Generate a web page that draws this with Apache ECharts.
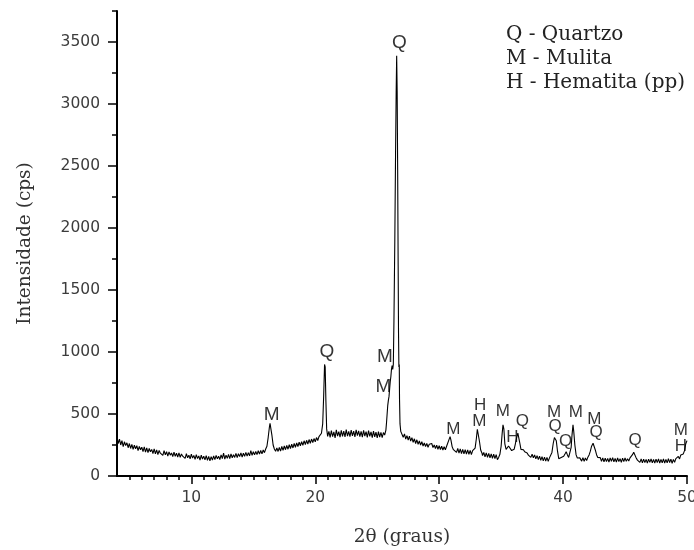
<!DOCTYPE html>
<html>
<head>
<meta charset="utf-8">
<script src="https://cdn.jsdelivr.net/npm/echarts@6/dist/echarts.min.js"></script>
<style>html,body{margin:0;padding:0;background:#fff}#c{width:694px;height:550px}</style>
</head>
<body>
<div id="c"></div>
<script>
// XRD pattern: [2θ (graus), Intensidade (cps)]
const pattern = [
[4.0,315],[4.1,262],[4.2,298],[4.3,250],[4.4,285],[4.5,236],[4.6,276],[4.7,245],[4.8,268],[4.9,228],[5.0,262],[5.1,222],[5.2,255],[5.3,214],[5.4,248],[5.5,220],[5.6,244],[5.7,205],[5.8,238],[5.9,212],[6.0,232],
[6.1,196],[6.2,234],[6.3,192],[6.4,226],[6.5,188],[6.6,222],[6.7,196],[6.8,214],[6.9,180],[7.0,218],[7.1,178],[7.2,210],[7.3,172],[7.4,206],[7.5,184],[7.6,200],[7.7,166],[7.8,204],[7.9,170],[8.0,196],[8.1,160],[8.2,194],[8.3,168],[8.4,186],[8.5,156],[8.6,192],[8.7,158],[8.8,184],
[8.9,152],[9.0,186],[9.1,150],[9.2,178],[9.3,160],[9.4,174],[9.5,142],[9.6,180],[9.7,146],[9.8,168],[9.9,138],[10.0,176],[10.1,144],[10.2,166],[10.3,134],[10.4,172],[10.5,140],[10.6,162],[10.7,128],[10.8,168],[10.9,136],[11.0,160],[11.1,130],[11.2,164],[11.3,126],[11.4,158],[11.5,122],[11.6,156],
[11.7,128],[11.8,162],[11.9,132],[12.0,166],[12.1,138],[12.2,160],[12.3,132],[12.4,170],[12.5,140],[12.6,184],[12.7,136],[12.8,168],[12.9,142],[13.0,174],[13.1,140],[13.2,178],[13.3,146],[13.4,172],[13.5,150],[13.6,182],[13.7,148],[13.8,180],[13.9,156],[14.0,186],[14.1,152],[14.2,184],
[14.3,158],[14.4,190],[14.5,160],[14.6,188],[14.7,162],[14.8,204],[14.9,166],[15.0,196],[15.1,170],[15.2,198],[15.3,172],[15.4,204],[15.5,176],[15.6,206],[15.7,178],[15.8,210],[15.9,188],[16.0,218],
[16.1,240],[16.2,310],[16.3,395],[16.35,425],[16.4,410],[16.5,330],[16.6,250],[16.7,218],[16.8,200],[16.9,226],[17.0,198],
[17.1,230],[17.2,200],[17.3,238],[17.4,206],[17.5,242],[17.6,212],[17.7,246],[17.8,216],[17.9,252],[18.0,222],[18.1,256],[18.2,226],[18.3,262],[18.4,232],[18.5,266],[18.6,238],[18.7,272],[18.8,244],[18.9,276],[19.0,248],[19.1,284],[19.2,254],[19.3,288],[19.4,258],[19.5,294],[19.6,264],[19.7,298],[19.8,270],[19.9,302],[20.0,276],[20.1,310],[20.2,286],[20.3,318],[20.4,318],[20.5,345],
[20.6,420],[20.68,650],[20.75,900],[20.8,880],[20.86,600],[20.92,380],[21.0,320],
[21.1,360],[21.2,312],[21.3,366],[21.4,318],[21.5,356],[21.6,308],[21.7,372],[21.8,322],[21.9,358],[22.0,314],[22.1,368],[22.2,320],[22.3,362],[22.4,316],[22.5,375],[22.6,322],[22.7,360],[22.8,318],[22.9,370],[23.0,324],[23.1,362],[23.2,316],[23.3,372],[23.4,326],[23.5,364],[23.6,318],[23.7,360],[23.8,314],[23.9,368],[24.0,322],[24.1,358],[24.2,312],[24.3,366],[24.4,320],[24.5,356],[24.6,310],[24.7,362],[24.8,316],[24.9,354],[25.0,308],[25.1,358],[25.2,314],[25.3,352],[25.4,310],[25.5,350],[25.6,330],
[25.7,370],[25.75,430],[25.8,500],[25.85,570],[25.9,610],[25.95,640],[26.0,700],[26.05,760],[26.1,800],[26.15,860],[26.2,890],[26.25,860],[26.3,900],[26.35,1250],[26.42,1900],[26.48,2600],[26.53,3100],[26.57,3390],[26.61,3100],[26.65,2470],[26.69,1700],[26.72,1150],[26.75,880],[26.78,900],[26.8,620],[26.84,420],[26.9,360],
[27.0,345],[27.1,312],[27.2,340],[27.3,298],[27.4,326],[27.5,290],[27.6,322],[27.7,282],[27.8,310],[27.9,272],[28.0,300],[28.1,262],[28.2,292],[28.3,256],[28.4,282],[28.5,250],[28.6,276],[28.7,242],[28.8,266],[28.9,238],[29.0,262],[29.1,232],[29.2,256],[29.3,270],[29.4,262],[29.5,230],[29.6,250],[29.7,222],[29.8,248],[29.9,216],[30.0,244],[30.1,214],[30.2,240],[30.3,210],[30.4,236],[30.5,212],[30.6,240],
[30.7,255],[30.8,295],[30.88,318],[30.95,290],[31.05,235],[31.15,212],
[31.3,226],[31.4,190],[31.5,222],[31.6,184],[31.7,218],[31.8,180],[31.9,214],[32.0,178],[32.1,212],[32.2,176],[32.3,210],[32.4,174],[32.5,206],[32.6,172],[32.7,204],[32.8,200],
[32.9,225],[33.0,300],[33.08,377],[33.15,365],[33.25,280],[33.35,210],[33.45,186],
[33.5,164],[33.6,190],[33.7,154],[33.8,186],[33.9,150],[34.0,182],[34.1,146],[34.2,178],[34.3,142],[34.4,176],[34.5,140],[34.6,172],[34.7,132],[34.8,150],[34.9,175],
[35.0,240],[35.08,340],[35.15,412],[35.22,380],[35.3,260],[35.4,215],[35.5,225],[35.6,242],[35.67,250],[35.75,232],[35.85,205],[35.95,198],[36.05,215],[36.15,260],[36.25,310],[36.35,345],[36.42,330],[36.5,270],[36.6,215],[36.7,205],[36.8,212],[36.9,195],[37.0,200],
[37.1,186],[37.2,168],[37.3,178],[37.4,150],[37.5,176],[37.6,146],[37.7,170],[37.8,138],[37.9,164],[38.0,132],[38.1,160],[38.2,126],[38.3,156],[38.4,122],[38.5,152],[38.6,120],[38.7,150],[38.8,118],[38.9,146],[39.0,150],
[39.1,190],[39.2,260],[39.3,310],[39.38,318],[39.45,285],[39.55,200],[39.65,140],[39.75,126],[39.85,150],[39.95,165],[40.05,160],[40.15,178],[40.25,196],[40.35,170],[40.45,150],[40.55,165],[40.65,230],[40.72,330],[40.8,412],[40.86,360],[40.95,250],[41.05,170],[41.15,145],[41.25,138],[41.35,146],
[41.5,120],[41.6,148],[41.7,118],[41.8,146],[41.9,124],[42.0,152],[42.1,170],[42.2,200],[42.3,240],[42.42,264],[42.5,250],[42.6,210],[42.7,172],[42.8,150],[42.9,135],
[43.0,148],[43.1,118],[43.2,146],[43.3,114],[43.4,144],[43.5,116],[43.6,142],[43.7,112],[43.8,146],[43.9,118],[44.0,148],[44.1,114],[44.2,142],[44.3,112],[44.4,146],[44.5,116],[44.6,140],[44.7,110],[44.8,144],[44.9,116],[45.0,146],[45.1,118],[45.2,140],[45.3,120],[45.4,146],[45.5,152],
[45.6,172],[45.7,192],[45.78,185],[45.88,150],[46.0,128],
[46.1,140],[46.2,110],[46.3,138],[46.4,106],[46.5,136],[46.6,108],[46.7,134],[46.8,104],[46.9,136],[47.0,110],[47.1,138],[47.2,106],[47.3,134],[47.4,104],[47.5,136],[47.6,108],[47.7,138],[47.8,104],[47.9,134],[48.0,106],[48.1,138],[48.2,104],[48.3,134],[48.4,106],[48.5,140],[48.6,108],[48.7,136],[48.8,102],[48.9,134],[49.0,110],[49.1,140],[49.2,130],[49.3,158],[49.4,138],[49.5,170],[49.6,162],[49.7,178],[49.8,205],[49.9,260],[50.0,285]
];

// Phase labels: [2θ, cps, text]
const majorPeakLabels = [
  [16.49, 493, 'M'], [20.93, 1004, 'Q'], [25.63, 959, 'M'], [25.49, 722, 'M'], [26.78, 3490, 'Q']
];
const minorPeakLabels = [
  [31.14, 377, 'M'], [33.30, 573, 'H'], [33.24, 444, 'M'], [35.13, 519, 'M'], [35.90, 309, 'H'],
  [36.71, 444, 'Q'], [39.27, 515, 'M'], [39.35, 398, 'Q'], [40.21, 277, 'Q'], [41.02, 515, 'M'],
  [42.52, 460, 'M'], [42.66, 350, 'Q'], [45.81, 285, 'Q'], [49.50, 372, 'M'], [49.50, 242, 'H']
];
const legendLines = ['Q - Quartzo', 'M - Mulita', 'H - Hematita (pp)'];

// Axis ticks
const xLabelValues = [10, 20, 30, 40, 50];
const xMinorTicks = [5,6,7,8,9,11,12,13,14,15,16,17,18,19,21,22,23,24,25,26,27,28,29,31,32,33,34,35,36,37,38,39,41,42,43,44,45,46,47,48,49];
const yLabelValues = [0, 500, 1000, 1500, 2000, 2500, 3000, 3500];
const yMinorTicks = [250, 750, 1250, 1750, 2250, 2750, 3250, 3750];

const chart = echarts.init(document.getElementById('c'), null, {renderer: 'canvas'});
const tickFont = {fontFamily: 'DejaVu Sans', fontSize: 15.5, color: '#3c3c3c'};
const titleFont = {fontFamily: 'DejaVu Serif', fontSize: 18.5, color: '#333'};
const labelSeries = (arr, size) => ({
  type: 'scatter',
  data: arr.map(d => ({value: [d[0], d[1]], name: d[2]})),
  symbolSize: 1,
  itemStyle: {color: 'rgba(0,0,0,0)'},
  silent: true,
  z: 5,
  label: {show: true, position: 'inside', formatter: p => p.name,
          fontFamily: 'Liberation Sans', fontSize: size, color: '#000'}
});

chart.setOption({
  animation: false,
  backgroundColor: '#fff',
  grid: {left: 117, right: 7, top: 11, bottom: 74, containLabel: false, outerBoundsMode: 'none'},
  xAxis: [{
    type: 'value', min: 4, max: 50, position: 'bottom',
    name: '2θ (graus)', nameLocation: 'middle', nameGap: 52, nameTextStyle: titleFont,
    axisLine: {show: true, lineStyle: {color: '#000', width: 2}},
    axisTick: {show: true, customValues: xMinorTicks, length: 4, lineStyle: {color: '#000', width: 1.5}},
    axisLabel: {show: true, customValues: xLabelValues, margin: 14, formatter: v => String(v), ...tickFont},
    splitLine: {show: false}
  }, {
    type: 'value', min: 4, max: 50, position: 'bottom', gridIndex: 0,
    axisLine: {show: false},
    axisTick: {show: true, customValues: xLabelValues, length: 8, lineStyle: {color: '#000', width: 1.5}},
    axisLabel: {show: false},
    splitLine: {show: false}
  }],
  yAxis: [{
    type: 'value', min: 0, max: 3750, position: 'left',
    name: 'Intensidade (cps)', nameLocation: 'middle', nameGap: 82, nameTextStyle: titleFont,
    axisLine: {show: true, lineStyle: {color: '#000', width: 2}},
    axisTick: {show: true, customValues: yLabelValues, length: 9, lineStyle: {color: '#000', width: 1.5}},
    axisLabel: {show: true, customValues: yLabelValues, margin: 17, formatter: v => String(v), ...tickFont},
    splitLine: {show: false}
  }, {
    type: 'value', min: 0, max: 3750, position: 'left', gridIndex: 0,
    axisLine: {show: false},
    axisTick: {show: true, customValues: yMinorTicks, length: 5, lineStyle: {color: '#000', width: 1.5}},
    axisLabel: {show: false},
    splitLine: {show: false}
  }],
  graphic: legendLines.map((t, i) => ({
    type: 'text', left: 506, top: 25 + i * 24, silent: true,
    style: {text: t, fontFamily: 'DejaVu Serif', fontSize: 20, fill: '#222'}
  })),
  series: [
    {type: 'line', data: pattern, xAxisIndex: 0, yAxisIndex: 0, symbol: 'none', showSymbol: false,
     lineStyle: {color: '#000', width: 1.1}, silent: true, z: 3},
    Object.assign(labelSeries(majorPeakLabels, 19), {xAxisIndex: 0, yAxisIndex: 0}),
    Object.assign(labelSeries(minorPeakLabels, 17), {xAxisIndex: 0, yAxisIndex: 0})
  ]
});
</script>
</body>
</html>
